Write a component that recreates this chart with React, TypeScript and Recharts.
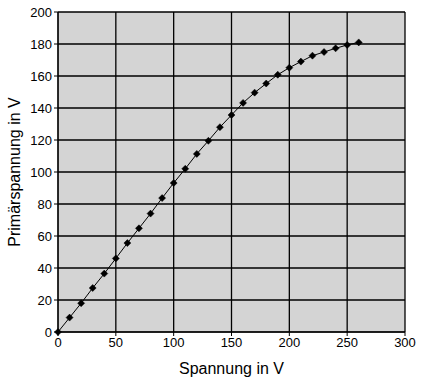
import { LineChart, Line, XAxis, YAxis, CartesianGrid, Label } from 'recharts';

const spannung = [0, 10, 20, 30, 40, 50, 60, 70, 80, 90, 100, 110, 120, 130, 140, 150, 160, 170, 180, 190, 200, 210, 220, 230, 240, 250, 260];
const primaer = [0, 9, 18, 27.5, 36.5, 46, 55.6, 64.8, 74, 83.7, 93.1, 102, 111.3, 119.5, 128, 135.6, 143.2, 149.6, 155.3, 160.8, 165.2, 169, 172.7, 175, 177.3, 179.4, 181];
const xTicks = [0, 50, 100, 150, 200, 250, 300];
const yTicks = [0, 20, 40, 60, 80, 100, 120, 140, 160, 180, 200];

const data = spannung.map((x, i) => ({ x, y: primaer[i] }));

const font = 'Liberation Sans, Arial, sans-serif';

function Diamond(props: any) {
  const { cx, cy } = props;
  if (cx == null || cy == null) return null;
  const r = 3.5;
  return (
    <polygon
      points={`${cx},${cy - r} ${cx + r},${cy} ${cx},${cy + r} ${cx - r},${cy}`}
      fill="#000"
      stroke="#000"
      strokeWidth={0.5}
    />
  );
}

export default function App() {
  return (
    <div style={{ position: 'absolute', left: 0, top: 0, background: '#fff' }}>
      <LineChart width={422} height={384} data={data} margin={{ top: 12, right: 17, bottom: 0, left: 0 }}>
        <CartesianGrid
          stroke="#000"
          strokeWidth={1.3}
          fill="#d4d4d4"
          fillOpacity={1}
          horizontalValues={yTicks}
          verticalValues={xTicks}
        />
        <XAxis
          dataKey="x"
          type="number"
          domain={[0, 300]}
          ticks={xTicks}
          height={52}
          stroke="#000"
          tickSize={4}
          tick={{ fontSize: 13, fill: '#000', fontFamily: font }}
        >
          <Label value="Spannung in V" position="insideBottom" offset={10} style={{ fontSize: 16, fill: '#000', fontFamily: font }} />
        </XAxis>
        <YAxis
          type="number"
          domain={[0, 200]}
          ticks={yTicks}
          width={58}
          stroke="#000"
          tickSize={4}
          tick={{ fontSize: 13, fill: '#000', fontFamily: font }}
        >
          <Label value="Primärspannung in V" angle={-90} position="insideLeft" offset={14} style={{ fontSize: 16, fill: '#000', fontFamily: font, textAnchor: 'middle' }} />
        </YAxis>
        <Line
          type="linear"
          dataKey="y"
          stroke="#000"
          strokeWidth={1}
          dot={<Diamond />}
          isAnimationActive={false}
        />
      </LineChart>
    </div>
  );
}
